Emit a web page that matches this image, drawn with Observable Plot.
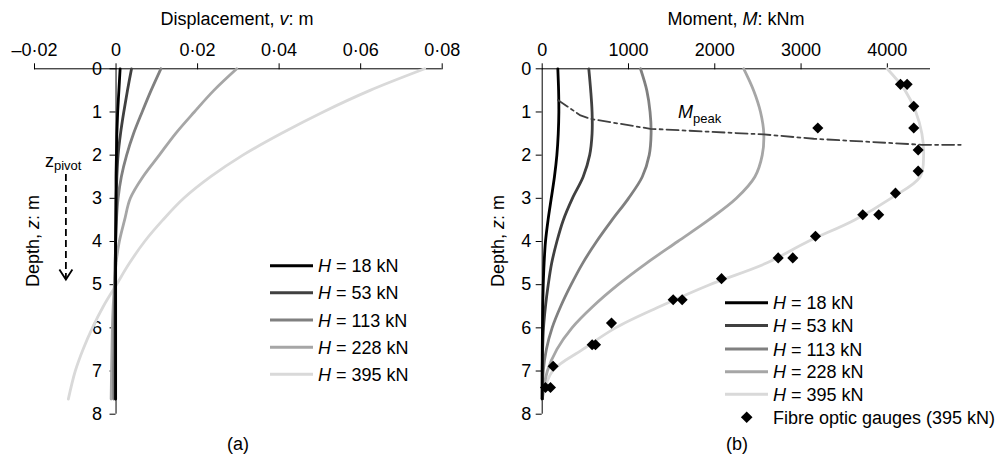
<!DOCTYPE html>
<html>
<head>
<meta charset="utf-8">
<script src="https://cdn.jsdelivr.net/npm/d3@7"></script>
<script src="https://cdn.jsdelivr.net/npm/@observablehq/plot@0.6"></script>
<style>
  html, body { margin: 0; padding: 0; background: #fff; }
  #wrap { position: relative; width: 1006px; height: 464px; overflow: hidden; background: #fff;
          font-family: "Liberation Sans", Arial, sans-serif; }
  #wrap svg { position: absolute; top: 0; }
</style>
</head>
<body>
<div id="wrap"></div>
<script>
// ---------- data ----------
const loads = [18, 53, 113, 228, 395];
const loadColors = ["#000000", "#404040", "#808080", "#a6a6a6", "#d9d9d9"];

const depth = [0, 0.5, 1, 1.5, 2, 2.5, 3, 3.5, 4, 4.5, 5, 5.5, 6, 6.5, 7, 7.65];

// (a) displacement v (m)
const dispH18  = [0.0010, 0.0007, 0.0004, 0.0002, 0.0001, 0.0000, 0.0000, 0.0000, -0.0001, -0.0001, -0.0001, -0.0001, -0.0001, -0.0001, -0.0001, -0.0001];
const dispH53  = [0.0038, 0.0028, 0.0019, 0.0011, 0.0005, 0.0002, 0.0000, -0.0001, -0.0001, -0.0002, -0.0002, -0.0002, -0.0002, -0.0002, -0.0002, -0.0002];
const dispH113 = [0.0110, 0.0086, 0.0064, 0.0043, 0.0026, 0.0013, 0.0005, 0.0001, -0.0001, -0.0002, -0.0003, -0.0004, -0.0005, -0.0005, -0.0006, -0.0006];
const dispH228 = [0.0296, 0.0240, 0.0192, 0.0146, 0.0106, 0.0066, 0.0035, 0.0021, 0.0008, 0.0000, -0.0004, -0.0007, -0.0009, -0.0010, -0.0011, -0.0012];
const dispH395 = [0.0757, 0.0623, 0.0508, 0.0405, 0.0311, 0.0232, 0.0166, 0.0115, 0.0070, 0.0033, 0.0001, -0.0031, -0.0058, -0.0081, -0.0100, -0.0117];

// (b) bending moment M (kNm)
const momH18  = [181, 190, 193, 186, 170, 142, 105, 68, 38, 22, 12, 6, 3, 1, 0, 0];
const momH53  = [540, 562, 578, 578, 550, 475, 350, 245, 170, 110, 70, 38, 15, 5, 1, 0];
const momH113 = [1139, 1212, 1250, 1262, 1240, 1160, 1000, 810, 630, 470, 335, 215, 115, 48, 12, 0];
const momH228 = [2336, 2450, 2530, 2568, 2550, 2465, 2250, 1930, 1570, 1210, 880, 590, 345, 170, 60, 0];
const momH395 = [3998, 4205, 4330, 4400, 4420, 4380, 4040, 3620, 3080, 2600, 1940, 1370, 850, 470, 120, 0];

// fibre optic gauges (395 kN)
const gaugeDepth  = [0.36, 0.36, 0.87, 1.37, 1.37, 1.88, 2.37, 2.88, 3.38, 3.38, 3.88, 4.38, 4.38, 4.86, 5.35, 5.35, 5.89, 6.39, 6.39, 6.89, 7.38, 7.38];
const gaugeMoment = [4152, 4229, 4306, 3194, 4306, 4357, 4357, 4094, 3715, 3900, 3167, 2735, 2904, 2078, 1518, 1622, 803, 579, 618, 127, 38, 96];

// M_peak trace
const mpeakMoment = [181, 444, 560, 1255, 2568, 3147, 4400, 4850];
const mpeakDepth  = [0.72, 1.08, 1.16, 1.39, 1.52, 1.62, 1.76, 1.76];

// z_pivot annotation (v position, start depth, pivot depth)
const pivotArrow = [{v: -0.0123, zStart: 2.45, zPivot: 4.88}];

// ticks
const xTicksA = [-0.02, 0, 0.02, 0.04, 0.06, 0.08];
const xTicksB = [0, 1000, 2000, 3000, 4000];
const yTicks = [0, 1, 2, 3, 4, 5, 6, 7, 8];

// ---------- tables ----------
const dispSeries = [dispH18, dispH53, dispH113, dispH228, dispH395];
const momSeries = [momH18, momH53, momH113, momH228, momH395];
const order = [4, 3, 2, 1, 0]; // draw lightest first
const rowsA = order.flatMap(i => depth.map((z, j) => ({H: loads[i], z, v: dispSeries[i][j]})));
const rowsB = order.flatMap(i => depth.map((z, j) => ({H: loads[i], z, m: momSeries[i][j]})));
const gauges = gaugeDepth.map((z, i) => ({z, m: gaugeMoment[i]}));
const mpeak = mpeakDepth.map((z, i) => ({z, m: mpeakMoment[i]}));

const font = "'Liberation Sans', Arial, sans-serif";
const fmtA = d => d === 0 ? "0" : (d < 0 ? "\u2013" : "") + Math.abs(d).toFixed(2).replace(".", "\u00b7");

const chevron = {
  draw(ctx) { ctx.moveTo(-6.5, -10); ctx.lineTo(0, 0); ctx.lineTo(6.5, -10); }
};

const common = {
  height: 464,
  marginTop: 68.3,
  marginBottom: 50.3,
  style: {fontFamily: font, fontSize: "18px", color: "#000", background: "transparent", overflow: "visible"},
  y: {domain: [0, 8], reverse: true, axis: null},
  color: {domain: loads, range: loadColors}
};

const yAxisMarks = (x0, gap) => [
  Plot.ruleX([x0], {y1: 0, y2: 8, stroke: "#000", strokeWidth: 1}),
  Plot.ruleY(yTicks, {y: d => d, x1: x0, x2: x0, insetLeft: -6, stroke: "#000", strokeWidth: 1}),
  Plot.text(yTicks, {y: d => d, x: x0, dx: -gap, text: d => String(d), textAnchor: "end", lineAnchor: "middle", fill: "#000"})
];

const plotA = Plot.plot({
  ...common,
  width: 500,
  marginLeft: 34,
  marginRight: 58.3,
  x: {domain: [-0.02, 0.08], axis: "top", ticks: xTicksA, tickFormat: fmtA, tickSize: 6, tickPadding: 7, label: null},
  marks: [
    Plot.ruleY([0], {stroke: "#000", strokeWidth: 1}),
    ...yAxisMarks(0, 14),
    Plot.line(rowsA, {x: "v", y: "z", z: "H", stroke: "H", strokeWidth: 2.8, curve: "catmull-rom"}),
    Plot.ruleX(pivotArrow, {x: "v", y1: "zStart", y2: "zPivot", stroke: "#000", strokeWidth: 1.8, strokeDasharray: "7,4"}),
    Plot.dot(pivotArrow, {x: "v", y: "zPivot", symbol: chevron, r: 4, fill: "none", stroke: "#000", strokeWidth: 1.8})
  ]
});

const plotB = Plot.plot({
  ...common,
  width: 506,
  marginLeft: 41.7,
  marginRight: 76,
  x: {domain: [0, 4500], axis: "top", ticks: xTicksB, tickFormat: d => String(d), tickSize: 6, tickPadding: 7, label: null},
  marks: [
    Plot.ruleY([0], {stroke: "#000", strokeWidth: 1}),
    ...yAxisMarks(0, 11),
    Plot.line(rowsB, {x: "m", y: "z", z: "H", stroke: "H", strokeWidth: 2.8, curve: "catmull-rom"}),
    Plot.line(mpeak, {x: "m", y: "z", stroke: "#404040", strokeWidth: 1.8, strokeDasharray: "12,4,3,4"}),
    Plot.dot(gauges, {x: "m", y: "z", symbol: "diamond2", r: 5, fill: "#000", stroke: "none"})
  ]
});

const wrap = document.getElementById("wrap");
plotA.style.left = "0px";
plotB.style.left = "500px";
wrap.appendChild(plotA);
wrap.appendChild(plotB);

// ---------- text overlay ----------
const it = t => `<tspan font-style="italic">${t}</tspan>`;
let o = `<svg xmlns="http://www.w3.org/2000/svg" width="1006" height="464" style="left:0;top:0;pointer-events:none;font-family:${font.replace(/'/g, "")};font-size:18px" fill="#000">`;
o += `<text x="237" y="25" text-anchor="middle">Displacement, ${it("v")}: m</text>`;
o += `<text x="736" y="25" text-anchor="middle">Moment, ${it("M")}: kNm</text>`;
o += `<text transform="translate(38.5,241) rotate(-90)" text-anchor="middle">Depth, ${it("z")}: m</text>`;
o += `<text transform="translate(503.5,241) rotate(-90)" text-anchor="middle">Depth, ${it("z")}: m</text>`;
o += `<text x="45" y="166.7">z<tspan font-size="13" dy="3">pivot</tspan></text>`;
o += `<text x="678" y="118">${it("M")}<tspan font-size="13" dy="5">peak</tspan></text>`;
const legA = [265.7, 292.7, 320, 347.3, 374.3];
const legB = [302.7, 325.5, 349, 371.7, 394.3];
loads.forEach((H, i) => {
  o += `<line x1="270" x2="313" y1="${legA[i]}" y2="${legA[i]}" stroke="${loadColors[i]}" stroke-width="3"/>`;
  o += `<text x="318" y="${legA[i] + 6.5}">${it("H")} = ${H} kN</text>`;
  o += `<line x1="725" x2="768" y1="${legB[i]}" y2="${legB[i]}" stroke="${loadColors[i]}" stroke-width="3"/>`;
  o += `<text x="773" y="${legB[i] + 6.5}">${it("H")} = ${H} kN</text>`;
});
o += `<path d="M746.7,411.5 L752.5,417.3 L746.7,423.1 L740.9,417.3 Z" fill="#000"/>`;
o += `<text x="773" y="423.8">Fibre optic gauges (395 kN)</text>`;
o += `<text x="238" y="450" text-anchor="middle">(a)</text>`;
o += `<text x="737" y="450" text-anchor="middle">(b)</text>`;
o += `</svg>`;
wrap.insertAdjacentHTML("beforeend", o);
</script>
</body>
</html>
